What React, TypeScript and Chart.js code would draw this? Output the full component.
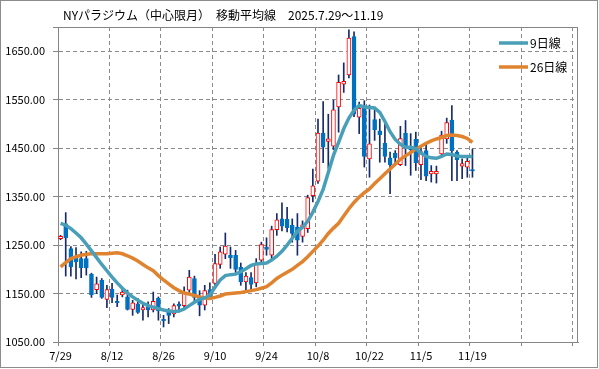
import React, { useEffect, useRef } from 'react';
import { Chart, registerables } from 'chart.js';

Chart.register(...registerables);

const TITLE = 'NYパラジウム（中心限月）　移動平均線　2025.7.29～11.19';

// trading days (categories)
const dates = [
  '7/29', '7/30', '7/31', '8/1', '8/4', '8/5', '8/6', '8/7', '8/8', '8/11',
  '8/12', '8/13', '8/14', '8/15', '8/18', '8/19', '8/20', '8/21', '8/22', '8/25',
  '8/26', '8/27', '8/28', '8/29', '9/2', '9/3', '9/4', '9/5', '9/8', '9/9',
  '9/10', '9/11', '9/12', '9/15', '9/16', '9/17', '9/18', '9/19', '9/22', '9/23',
  '9/24', '9/25', '9/26', '9/29', '9/30', '10/1', '10/2', '10/3', '10/6', '10/7',
  '10/8', '10/9', '10/10', '10/13', '10/14', '10/15', '10/16', '10/17', '10/20', '10/21',
  '10/22', '10/23', '10/24', '10/27', '10/28', '10/29', '10/30', '10/31', '11/3', '11/4',
  '11/5', '11/6', '11/7', '11/10', '11/11', '11/12', '11/13', '11/14', '11/17', '11/18',
  '11/19',
];
// empty slots kept on the right of the axis
const EXTRA_SLOTS = 20;
const LABEL_EVERY = 10;

const open = [
  1263, 1294, 1243, 1225, 1222, 1222, 1190, 1158, 1177, 1138,
  1159, 1134, 1147, 1143, 1117, 1129, 1116, 1123, 1116, 1140,
  1097, 1112, 1108, 1128, 1125, 1157, 1181, 1143, 1126, 1158,
  1171, 1210, 1231, 1229, 1229, 1204, 1174, 1183, 1172, 1219,
  1246, 1229, 1282, 1304, 1303, 1291, 1287, 1268, 1284, 1352,
  1382, 1481, 1464, 1454, 1535, 1582, 1601, 1680, 1514, 1538,
  1428, 1509, 1486, 1460, 1430, 1440, 1416, 1481, 1454, 1468,
  1416, 1445, 1397, 1397, 1438, 1469, 1508, 1442, 1413, 1411,
  1406,
];
const high = [
  1270, 1317, 1247, 1245, 1236, 1237, 1192, 1184, 1181, 1167,
  1171, 1147, 1160, 1157, 1136, 1140, 1129, 1133, 1153, 1143,
  1105, 1119, 1129, 1133, 1164, 1198, 1186, 1156, 1167, 1172,
  1231, 1246, 1275, 1246, 1239, 1213, 1193, 1193, 1222, 1256,
  1265, 1289, 1315, 1337, 1328, 1304, 1315, 1300, 1353, 1407,
  1510, 1546, 1520, 1549, 1601, 1626, 1694, 1690, 1545, 1548,
  1539, 1531, 1510, 1507, 1442, 1445, 1495, 1507, 1480, 1483,
  1452, 1458, 1414, 1413, 1485, 1512, 1538, 1445, 1428, 1431,
  1448,
];
const low = [
  1261, 1186, 1186, 1180, 1183, 1188, 1142, 1150, 1140, 1121,
  1131, 1123, 1143, 1116, 1105, 1109, 1095, 1102, 1112, 1095,
  1081, 1088, 1102, 1112, 1119, 1150, 1135, 1104, 1116, 1140,
  1164, 1202, 1222, 1202, 1191, 1167, 1157, 1154, 1164, 1213,
  1229, 1219, 1270, 1279, 1277, 1256, 1229, 1256, 1276, 1339,
  1377, 1420, 1408, 1447, 1483, 1565, 1595, 1515, 1480, 1411,
  1390, 1466, 1421, 1421, 1356, 1415, 1414, 1414, 1394, 1404,
  1385, 1383, 1380, 1378, 1432, 1460, 1383, 1383, 1387, 1390,
  1390,
];
const close = [
  1268, 1265, 1205, 1215, 1203, 1203, 1147, 1170, 1142, 1158,
  1142, 1131, 1153, 1117, 1131, 1111, 1121, 1116, 1134, 1114,
  1094, 1105, 1125, 1124, 1151, 1184, 1142, 1126, 1156, 1143,
  1212, 1236, 1248, 1224, 1200, 1174, 1186, 1169, 1212, 1251,
  1241, 1282, 1302, 1289, 1286, 1274, 1260, 1292, 1348, 1372,
  1481, 1452, 1469, 1529, 1586, 1588, 1677, 1520, 1532, 1433,
  1459, 1488, 1478, 1433, 1416, 1430, 1470, 1455, 1447, 1420,
  1443, 1392, 1402, 1402, 1477, 1503, 1445, 1426, 1418, 1423,
  1403,
];
const ma9 = [
  1295, 1291, 1284, 1275, 1265, 1252, 1238, 1224, 1210, 1197,
  1184, 1172, 1161, 1151, 1143, 1136, 1130, 1125, 1122, 1119,
  1116, 1114, 1113, 1114, 1118, 1125, 1132, 1138, 1141, 1147,
  1163, 1178, 1187, 1189, 1190, 1195, 1201, 1208, 1211, 1212,
  1213, 1219, 1227, 1237, 1250, 1264, 1278, 1287, 1299, 1318,
  1340, 1365, 1400, 1435, 1462, 1490, 1512, 1528, 1538, 1535,
  1534, 1533, 1524, 1505, 1484, 1468, 1458, 1452, 1452, 1449,
  1440, 1433, 1430, 1429, 1433, 1438, 1437, 1434, 1433, 1433,
  1433,
];
const ma26 = [
  1205, 1214, 1222, 1226, 1229, 1231, 1232, 1232, 1232, 1232,
  1233, 1234, 1232, 1228, 1223, 1217, 1210, 1203, 1197, 1187,
  1178, 1170, 1162, 1156, 1151, 1149, 1146, 1143, 1141, 1140,
  1142, 1145, 1149, 1150, 1151, 1152, 1154, 1156, 1158, 1161,
  1164, 1172, 1181, 1188, 1194, 1200, 1208, 1216, 1226, 1237,
  1248, 1260, 1274, 1285, 1295, 1310, 1325, 1338, 1349, 1358,
  1366, 1377, 1387, 1397, 1407, 1417, 1427, 1434, 1441, 1448,
  1454, 1460, 1465, 1469, 1472, 1476, 1477, 1476, 1474, 1470,
  1462,
];
const yTicks = [1050, 1150, 1250, 1350, 1450, 1550, 1650, 1700];
const Y_MIN = 1050;
const Y_MAX = 1700;

const FONT = '"Noto Sans CJK JP", "Noto Sans", sans-serif';
const GRID = '#8a8a8a';
const AXIS = '#868686';
const C9 = '#4A9FB8';
const C26 = '#E0832F';
const UP_BORDER = '#FF0000';
const DOWN = '#0070C0';
const WICK = '#172B6A';

export default function App() {
  const ref = useRef<HTMLCanvasElement | null>(null);

  useEffect(() => {
    document.body.style.margin = '0';
    const canvas = ref.current;
    if (!canvas) return;
    const labels = [...dates, ...Array(EXTRA_SLOTS).fill('')];
    const up = close.map((c, i) => c >= open[i]);
    const legendItems = [
      { label: '9日線', color: C9 },
      { label: '26日線', color: C26 },
    ];

    const decor = {
      id: 'decor',
      beforeDraw(chart: any) {
        const { ctx } = chart;
        ctx.save();
        ctx.fillStyle = '#ffffff';
        ctx.fillRect(0, 0, chart.width, chart.height);
        ctx.restore();
      },
      afterDraw(chart: any) {
        const { ctx, chartArea: a } = chart;
        ctx.save();
        ctx.strokeStyle = AXIS;
        ctx.lineWidth = 1;
        ctx.setLineDash([]);
        // plot area top & right border
        const top = Math.round(a.top) + 0.5;
        const right = Math.round(a.right) - 0.5;
        ctx.beginPath();
        ctx.moveTo(a.left, top);
        ctx.lineTo(right, top);
        ctx.lineTo(right, a.bottom);
        ctx.stroke();
        // outer frame
        ctx.strokeStyle = '#8c8c8c';
        ctx.strokeRect(0.5, 0.5, chart.width - 2, chart.height - 2);
        // title
        ctx.fillStyle = '#000';
        ctx.font = `12px ${FONT}`;
        ctx.textBaseline = 'middle';
        ctx.textAlign = 'left';
        ctx.fillText(TITLE, 63, 15);
        // legend
        legendItems.forEach((it, k) => {
          const y = 43 + k * 24;
          ctx.strokeStyle = it.color;
          ctx.lineWidth = 3.5;
          ctx.beginPath();
          ctx.moveTo(499, y);
          ctx.lineTo(528, y);
          ctx.stroke();
          ctx.fillStyle = '#000';
          ctx.fillText(it.label, 530, y);
        });
        ctx.restore();
      },
    };

    const chart = new Chart(canvas, {
      type: 'bar',
      data: {
        labels,
        datasets: [
          {
            type: 'bar',
            label: 'wick',
            data: low.map((l, i) => [l, high[i]]),
            backgroundColor: WICK,
            barThickness: 1,
            grouped: false,
            order: 4,
          } as any,
          {
            type: 'bar',
            label: 'body',
            data: open.map((o, i) => [o, close[i]]),
            backgroundColor: up.map((u) => (u ? '#ffffff' : DOWN)),
            borderColor: up.map((u) => (u ? UP_BORDER : DOWN)),
            borderWidth: 1,
            borderSkipped: false,
            barThickness: 4,
            grouped: false,
            order: 3,
          } as any,
          {
            type: 'line',
            label: '26日線',
            data: ma26,
            borderColor: C26,
            borderWidth: 3.5,
            pointRadius: 0,
            tension: 0,
            order: 2,
          } as any,
          {
            type: 'line',
            label: '9日線',
            data: ma9,
            borderColor: C9,
            borderWidth: 3.5,
            pointRadius: 0,
            tension: 0,
            order: 1,
          } as any,
        ],
      },
      options: {
        responsive: false,
        animation: false,
        devicePixelRatio: 1,
        layout: { padding: { top: 27, right: 21, bottom: 0, left: 0 } },
        plugins: {
          legend: { display: false },
          tooltip: { enabled: false },
          title: { display: false },
        },
        scales: {
          x: {
            type: 'category',
            offset: true,
            grid: {
              offset: true,
              color: (c: any) => (c.index % LABEL_EVERY === 0 ? GRID : 'rgba(0,0,0,0)'),
              tickColor: (c: any) => (c.index % LABEL_EVERY === 0 ? AXIS : 'rgba(0,0,0,0)'),
              tickLength: 4,
              lineWidth: 1,
            },
            border: { display: true, color: AXIS, dash: [4, 3] },
            ticks: {
              autoSkip: false,
              maxRotation: 0,
              minRotation: 0,
              padding: 3,
              color: '#000',
              font: { size: 11, family: FONT },
              callback: (_v: any, i: number) =>
                i % LABEL_EVERY === 0 && i < dates.length ? dates[i] : '',
            },
            afterFit: (s: any) => {
              s.height = 27;
            },
          },
          y: {
            min: Y_MIN,
            max: Y_MAX,
            afterBuildTicks: (s: any) => {
              s.ticks = yTicks.map((v) => ({ value: v }));
            },
            grid: { color: GRID, tickColor: AXIS, tickLength: 5, lineWidth: 1 },
            border: { display: true, color: AXIS, dash: [4, 3] },
            ticks: {
              padding: 8,
              color: '#000',
              font: { size: 11, family: FONT },
              callback: (v: any) => (v === Y_MAX ? '' : Number(v).toFixed(2)),
            },
            afterFit: (s: any) => {
              s.width = 58;
            },
          },
        },
      } as any,
      plugins: [decor],
    });

    return () => chart.destroy();
  }, []);

  return (
    <div style={{ width: 599, height: 369 }}>
      <canvas ref={ref} width={599} height={369} style={{ display: 'block', width: 599, height: 369 }} />
    </div>
  );
}
